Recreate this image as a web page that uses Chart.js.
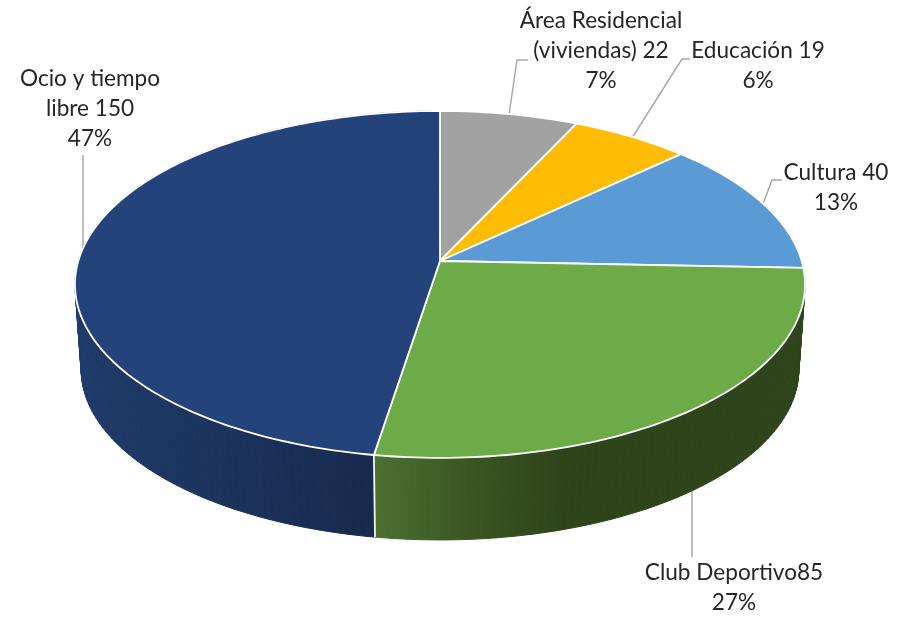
<!DOCTYPE html>
<html>
<head>
<meta charset="utf-8">
<title>Pie</title>
<script src="https://cdn.jsdelivr.net/npm/chart.js@4"></script>
<style>
  html, body { margin: 0; padding: 0; background: #fff; }
  canvas { display: block; }
</style>
</head>
<body>
<canvas id="chart" width="915" height="617"></canvas>
<script>
const categories = ['Área Residencial (viviendas)', 'Educación', 'Cultura', 'Club Deportivo', 'Ocio y tiempo libre'];
const values = [22, 19, 40, 85, 150];
const sliceColors = ['#A2A2A2', '#FFBC05', '#5B9BD5', '#6DAA48', '#24437A'];
const labelLines = [
  ['Área Residencial', '(viviendas) 22', '7%'],
  ['Educación 19', '6%'],
  ['Cultura 40', '13%'],
  ['Club Deportivo85', '27%'],
  ['Ocio y tiempo', 'libre 150', '47%']
];

// label anchors and leader lines, one per slice
const labelPos = [[601, 28], [758, 58], [836, 180], [734, 580], [90, 86]];
const leaders = [
  [[509, 115], [517, 60], [528, 60]],
  [[632, 138], [682, 59], [690, 59]],
  [[763, 204], [772, 180], [782, 180]],
  [[692, 490], [692, 557]],
  [[83, 155], [83, 256]]
];
// side wall shading, only the slices facing the viewer
const wallStops = [null, null, null,
  [[375, '#4C7030'], [470, '#3A5523'], [560, '#2E451B'], [805, '#2E451B']],
  [[75, '#1F3B6A'], [375, '#182A4D']]];

// perspective of the tilted disc
const RX = 361.7, RY = 170.3, PERSP = 0.135;
const DEPTH = 85, SHRINK = 0.983, ELLIPSE_DY = 24;

function rim(el, angle) {
  const u = Math.cos(angle), v = -Math.sin(angle);
  const w = 1 + PERSP * v;
  return [el.x + RX * u / w, el.y - RY * v / w];
}

function lowerRim(el, angle) {
  const p = rim(el, angle);
  const cy = el.y + ELLIPSE_DY;
  return [el.x + (p[0] - el.x) * SHRINK, cy + (p[1] - cy) * SHRINK + DEPTH];
}

function anglesOf(el) {
  const out = [];
  const n = Math.ceil((el.endAngle - el.startAngle) / 0.02);
  for (let i = 0; i <= n; i++) out.push(el.startAngle + (el.endAngle - el.startAngle) * i / n);
  return out;
}

const disc3d = {
  id: 'disc3d',
  beforeDatasetsDraw(chart) {
    const ctx = chart.ctx;
    const arcs = chart.getDatasetMeta(0).data;
    ctx.save();
    ctx.lineJoin = 'round';

    // leader lines sit behind the pie
    ctx.strokeStyle = '#A9A9A9';
    ctx.lineWidth = 1.5;
    leaders.forEach(line => {
      ctx.beginPath();
      line.forEach((p, i) => i ? ctx.lineTo(p[0], p[1]) : ctx.moveTo(p[0], p[1]));
      ctx.stroke();
    });

    // walls, built from small quads so the straight silhouette edges appear
    arcs.forEach((el, i) => {
      if (!wallStops[i]) return;
      const stops = wallStops[i];
      const x0 = stops[0][0], x1 = stops[stops.length - 1][0];
      const grad = ctx.createLinearGradient(x0, 0, x1, 0);
      stops.forEach(s => grad.addColorStop((s[0] - x0) / (x1 - x0), s[1]));
      ctx.fillStyle = grad;
      ctx.strokeStyle = grad;
      ctx.lineWidth = 1;
      const angles = anglesOf(el);
      for (let j = 0; j < angles.length - 1; j++) {
        const a = rim(el, angles[j]), b = rim(el, angles[j + 1]);
        const c = lowerRim(el, angles[j + 1]), d = lowerRim(el, angles[j]);
        ctx.beginPath();
        ctx.moveTo(a[0], a[1]);
        ctx.lineTo(b[0], b[1]);
        ctx.lineTo(c[0], c[1]);
        ctx.lineTo(d[0], d[1]);
        ctx.closePath();
        ctx.fill();
        ctx.stroke();
      }
    });

    // white seam where the two front walls meet
    const seam = arcs[4];
    const top = rim(seam, seam.startAngle), low = lowerRim(seam, seam.startAngle);
    ctx.strokeStyle = '#F4F6F0';
    ctx.lineWidth = 1.8;
    ctx.beginPath();
    ctx.moveTo(top[0], top[1]);
    ctx.lineTo(low[0], low[1]);
    ctx.stroke();

    // top face
    arcs.forEach((el, i) => {
      ctx.beginPath();
      ctx.moveTo(el.x, el.y);
      anglesOf(el).forEach(a => {
        const p = rim(el, a);
        ctx.lineTo(p[0], p[1]);
      });
      ctx.closePath();
      ctx.fillStyle = sliceColors[i];
      ctx.fill();
      ctx.strokeStyle = '#FFFFFF';
      ctx.lineWidth = 1.8;
      ctx.stroke();
    });

    // labels
    ctx.fillStyle = '#262626';
    ctx.font = '22.6px Lato';
    ctx.textAlign = 'center';
    ctx.textBaseline = 'alphabetic';
    labelLines.forEach((lines, i) => {
      lines.forEach((t, j) => ctx.fillText(t, labelPos[i][0], labelPos[i][1] + j * 30));
    });
    ctx.restore();
    return false;
  }
};

new Chart(document.getElementById('chart'), {
  type: 'pie',
  data: {
    labels: categories,
    datasets: [{ data: values, backgroundColor: sliceColors, borderColor: '#fff' }]
  },
  options: {
    responsive: false,
    animation: false,
    devicePixelRatio: 1,
    layout: { padding: { right: 35, bottom: 95 } },
    plugins: { legend: { display: false }, tooltip: { enabled: false } }
  },
  plugins: [disc3d]
});
</script>
</body>
</html>
